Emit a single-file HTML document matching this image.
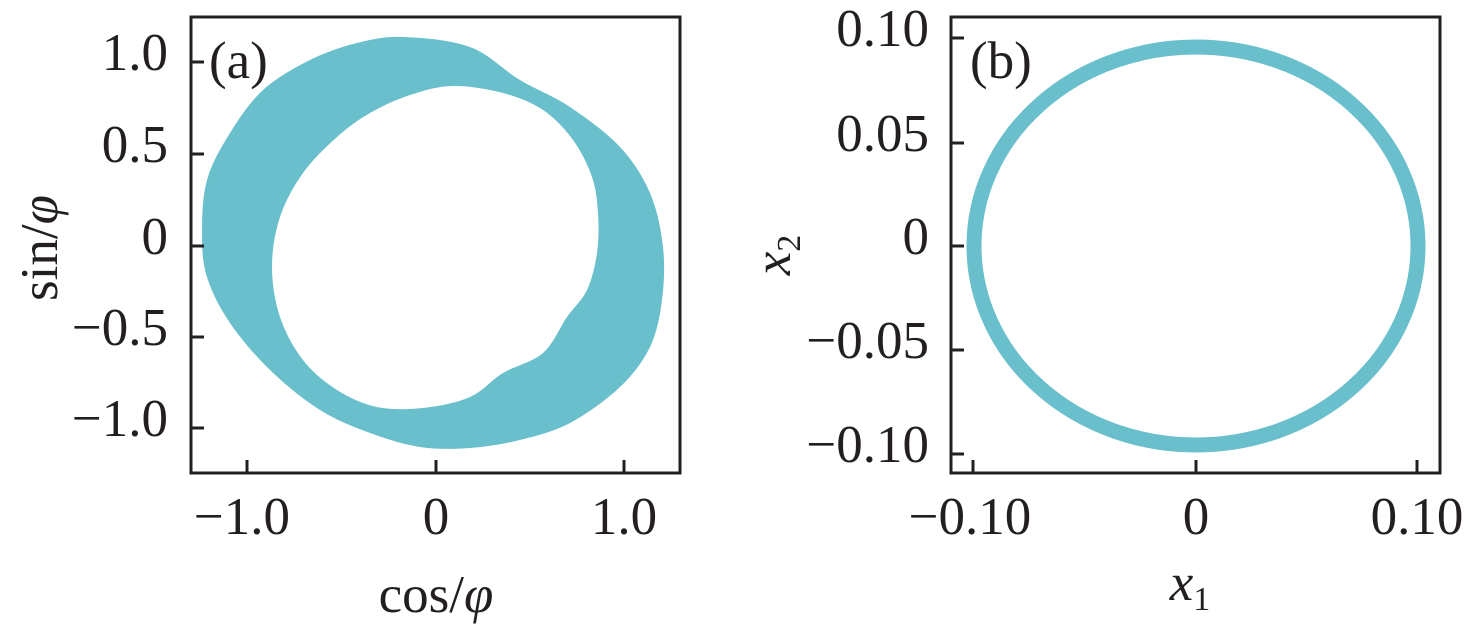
<!DOCTYPE html>
<html><head><meta charset="utf-8"><style>
html,body{margin:0;padding:0;background:#fff;}
svg{display:block;}
text{font-family:"Liberation Serif",serif;fill:#231f20;}
</style></head><body>
<svg width="1476" height="643" viewBox="0 0 1476 643">
<path id="ring" fill="#69bfcb" fill-rule="evenodd" d=""/>
<ellipse cx="1196" cy="246" rx="222" ry="199" fill="none" stroke="#69bfcb" stroke-width="15"/>
<g stroke="#231f20" stroke-width="3" fill="none">
<rect x="191" y="17" width="489" height="456"/>
<rect x="951" y="17" width="489" height="456"/>
<path d="M191,62h13M191,154h13M191,246h13M191,337h13M191,428h13M247,473v-13M436,473v-13M624,473v-13"/>
<path d="M951,38h13M951,143h13M951,246h13M951,350h13M951,454h13M973,473v-13M1196,473v-13M1417,473v-13"/>
</g>
<g font-size="53" text-anchor="end">
<text x="168" y="70">1.0</text><text x="168" y="162">0.5</text><text x="168" y="254">0</text><text x="168" y="345">−0.5</text><text x="168" y="436">−1.0</text>
<text x="929" y="46">0.10</text><text x="929" y="151">0.05</text><text x="929" y="254">0</text><text x="929" y="358">−0.05</text><text x="929" y="462">−0.10</text>
</g>
<g font-size="53" text-anchor="middle">
<text x="242" y="534">−1.0</text><text x="436" y="534">0</text><text x="624" y="534">1.0</text>
<text x="970" y="534">−0.10</text><text x="1196" y="534">0</text><text x="1417" y="534">0.10</text>
<text x="436" y="612">cos/<tspan font-style="italic">φ</tspan></text>
<text x="1190" y="600" font-style="italic">x<tspan font-style="normal" font-size="34" dy="10">1</tspan></text>
<text transform="translate(57,248) rotate(-90)">sin/<tspan font-style="italic">φ</tspan></text>
<text transform="translate(790,255) rotate(-90)" font-style="italic">x<tspan font-style="normal" font-size="34" dy="10">2</tspan></text>
</g>
<text x="209" y="78" font-size="53">(a)</text>
<text x="970" y="78" font-size="53">(b)</text>
</svg>
<script>
function cr(p){var n=p.length,d="M"+p[0][0]+","+p[0][1];
for(var i=0;i<n;i++){var p0=p[(i-1+n)%n],p1=p[i],p2=p[(i+1)%n],p3=p[(i+2)%n];
d+=" C"+(p1[0]+(p2[0]-p0[0])/6)+","+(p1[1]+(p2[1]-p0[1])/6)+" "+(p2[0]-(p3[0]-p1[0])/6)+","+(p2[1]-(p3[1]-p1[1])/6)+" "+p2[0]+","+p2[1];}
return d+"Z";}
var o=[[403,37],[470,47],[520,80],[570,107],[620,147],[650,193],[663,247],[662,300],[650,347],[620,387],[570,423],[520,440],[470,448],[420,447],[370,433],[320,410],[270,370],[230,323],[207,277],[202,233],[207,180],[230,133],[263,90],[310,60],[357,43]];
var q=[[453,86],[503,93],[543,110],[573,140],[592,177],[598,213],[597,253],[587,290],[567,317],[543,353],[503,373],[470,397],[423,408],[377,407],[337,390],[303,360],[280,317],[272,267],[280,217],[303,173],[337,137],[370,113],[410,95]];
document.getElementById("ring").setAttribute("d",cr(o)+" "+cr(q));
</script>
</body></html>
